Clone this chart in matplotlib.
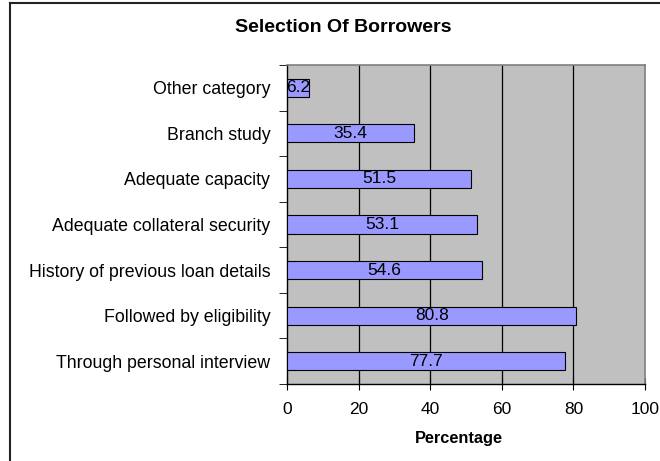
import numpy as np
import matplotlib.pyplot as plt
from matplotlib.lines import Line2D

# Dados do gráfico (de baixo para cima)
categorias = ['Through personal interview', 'Followed by eligibility',
              'History of previous loan details', 'Adequate collateral security',
              'Adequate capacity', 'Branch study', 'Other category']
valores = [77.7, 80.8, 54.6, 53.1, 51.5, 35.4, 6.2]
ticks_x = [0, 20, 40, 60, 80, 100]

plt.rcParams['font.family'] = ['Liberation Sans', 'DejaVu Sans']

fig = plt.figure(figsize=(6.6, 4.61), dpi=100)
ax = fig.add_axes([287/660, 1 - 384/461, 358/660, 319/461])

y = np.arange(len(categorias))
ax.set_facecolor('#C0C0C0')
ax.barh(y, valores, height=0.4, color='#9999FF', edgecolor='black', linewidth=0.8, zorder=3)
for yi, v in zip(y, valores):
    ax.text(v / 2, yi, f'{v:.1f}', ha='center', va='center', fontsize=12.5, zorder=4)

ax.set_xlim(0, 100)
ax.set_ylim(-0.5, len(categorias) - 0.5)
ax.set_xticks(ticks_x)
ax.set_xticklabels([str(t) for t in ticks_x], fontsize=12.5)
ax.set_yticks(y)
ax.set_yticklabels(categorias, fontsize=12.8)
ax.tick_params(axis='y', length=0, pad=12)
ax.set_yticks(np.arange(-0.5, len(categorias), 1), minor=True)
ax.tick_params(axis='y', which='minor', length=6, direction='out', color='black')
ax.tick_params(axis='x', length=8, direction='inout', color='black', pad=9)

for gx in ticks_x[1:-1]:
    ax.axvline(gx, color='black', linewidth=0.9, zorder=1)

for lado in ['top', 'right']:
    ax.spines[lado].set_color('#808080')
    ax.spines[lado].set_linewidth(1.2)
for lado in ['left', 'bottom']:
    ax.spines[lado].set_color('black')
    ax.spines[lado].set_linewidth(1.0)

ax.set_xlabel('Percentage', fontsize=11.8, fontweight='bold')
ax.xaxis.set_label_coords(0.48, -0.148)
fig.text(343/660, 1 - 28/461, 'Selection Of Borrowers',
         ha='center', va='center', fontsize=14, fontweight='bold')

# borda do gráfico
fig.add_artist(Line2D([10/660, 10/660], [0, 1 - 3/461], color='#222222', linewidth=1.5))
fig.add_artist(Line2D([10/660, 1], [1 - 3/461, 1 - 3/461], color='#222222', linewidth=1.5))

plt.savefig('out.png', dpi=100)
